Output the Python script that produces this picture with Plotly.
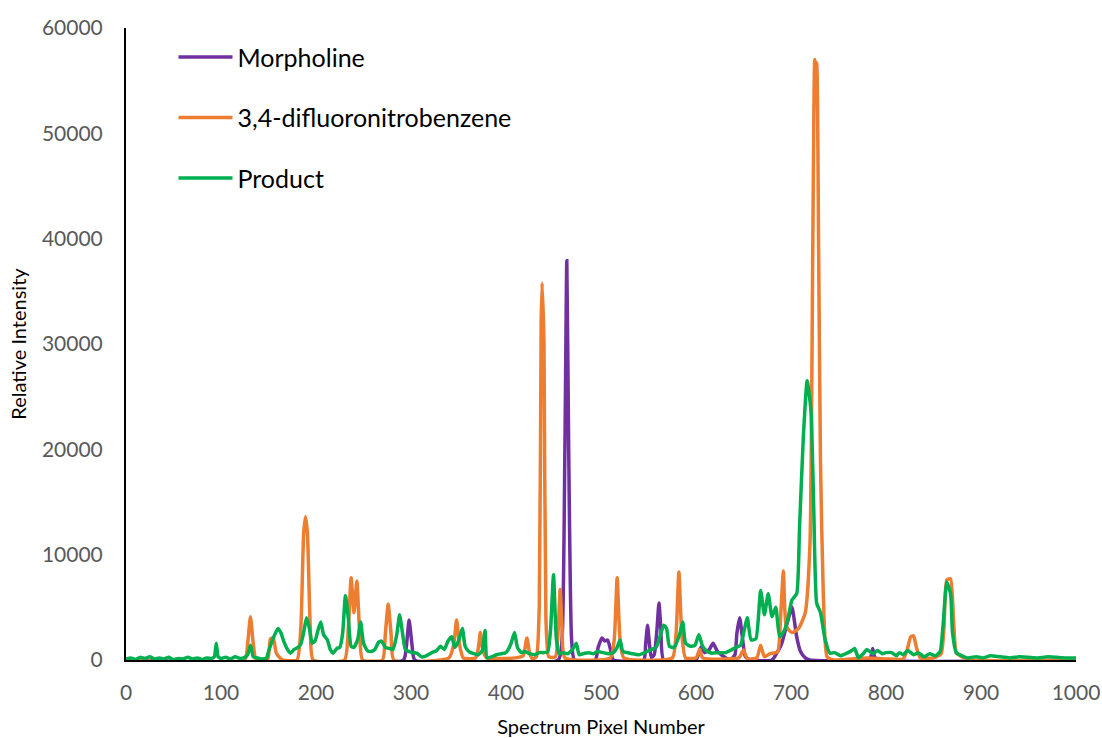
import plotly.graph_objects as go

# ---------------- data ----------------
morph_x = [0, 292, 295, 298, 301, 304, 455, 459, 462, 464, 466, 469, 472,
           494, 497, 501, 504, 507, 510, 513, 545, 547, 549, 551, 553, 556, 559, 561, 563, 566,
           600, 605, 609, 614, 618, 622, 628, 636, 641, 643, 646, 649, 652, 658,
           680, 685, 690, 696, 701, 706, 710, 715, 720, 780, 784, 786, 788, 792, 1000]
morph_y = [0, 0, 1200, 3800, 1500, 0, 0, 2000, 20000, 37900, 20000, 2000, 0,
           0, 1200, 2100, 1800, 1900, 1000, 0, 0, 1500, 3300, 1500, 200, 500, 3000, 5400, 3000, 0,
           0, 1200, 700, 1000, 1600, 900, 400, 0, 500, 2500, 4000, 2000, 300, 0,
           0, 650, 1500, 3500, 5000, 2200, 800, 200, 0, 0, 300, 1100, 300, 0, 0]

dfnb_x = [0, 125, 128, 131, 134, 137, 149, 152, 155, 158, 161, 165, 180, 184, 187, 189, 191, 194, 197,
          230, 234, 237, 240, 243, 246, 249, 270, 273, 276, 279, 282,
          340, 345, 348, 351, 355, 368, 371, 373, 376, 380,
          410, 418, 422, 425, 428, 432, 435, 437, 438, 440, 442, 445, 452, 455, 457, 459, 462,
          510, 514, 517, 520, 524, 575, 579, 582, 585, 589, 600, 604, 607,
          645, 650, 654, 664, 668, 672, 678, 686, 689, 692, 695, 701, 708, 715, 720, 723,
          725, 726, 727, 729, 731, 734, 738, 745, 780, 800, 818, 822, 826, 829, 832, 836,
          850, 858, 861, 864, 868, 871, 874, 880, 890, 1000]
dfnb_y = [0, 0, 1500, 4100, 1500, 0, 0, 2000, 2100, 700, 300, 0, 0, 3000, 12000, 13600, 12000, 3000, 0,
          0, 3000, 7800, 4500, 7500, 2500, 0, 0, 2500, 5300, 2500, 0,
          200, 1500, 3800, 1500, 200, 200, 1200, 2600, 800, 200,
          200, 400, 2100, 600, 100, 300, 5000, 32000, 35800, 30000, 4000, 300, 300, 3000, 6700, 3000, 200,
          200, 2000, 7800, 2000, 200, 200, 2500, 8350, 2500, 200, 200, 1000, 200,
          200, 950, 100, 200, 1400, 300, 600, 800, 4000, 8450, 3200, 2600, 3000, 4500, 11100, 40000,
          57000, 56300, 56700, 40000, 19000, 6300, 300, 0, 200, 100, 100, 900, 2200, 2300, 1200, 200,
          200, 600, 3000, 7600, 7700, 4000, 700, 300, 0, 0]

prod_x = [0, 5, 10, 15, 20, 25, 30, 35, 40, 45, 50, 55, 60, 65, 70, 75, 80, 85, 90, 93, 95, 97,
          100, 105, 110, 115, 120, 125, 128, 131, 134, 138, 143, 148,
          150, 153, 157, 160, 163, 166, 170, 173, 177, 181, 184, 187, 190, 193, 196, 199, 202, 205,
          208, 212, 215, 218, 222, 225, 228, 231, 234, 237, 240, 244, 247, 250, 254, 258, 262, 266,
          269, 273, 277, 281, 285, 288, 291, 294, 298, 302, 306, 311, 316, 322, 327, 331, 335, 339,
          343, 346, 350, 354, 357, 361, 366, 371, 375, 378, 380, 385, 390, 395, 400, 405, 409, 412,
          416, 420, 425, 430, 435, 440, 444, 447, 450, 453, 456, 460, 465, 470, 474, 477, 481, 487,
          492, 496, 502, 508, 513, 517, 520, 523, 528, 533, 540, 546, 553, 558, 562, 566, 569, 572,
          577, 583, 586, 589, 594, 599, 603, 607, 612, 617, 623, 631, 637, 642, 647, 650, 654, 658,
          663, 668, 672, 676, 680, 684, 688, 693, 697, 701, 706, 709, 713, 717, 721, 724, 727, 731,
          736, 741, 746, 752, 760, 764, 767, 771, 776, 780, 786, 791, 796, 800, 806, 811, 814, 818,
          823, 829, 834, 840, 846, 852, 857, 860, 864, 868, 870, 874, 880, 886, 895, 902, 910, 920,
          930, 940, 950, 960, 970, 980, 990, 1000]
prod_y = [100, 200, 50, 250, 150, 300, 100, 200, 100, 250, 50, 150, 100, 250, 100, 200, 50, 200, 150, 300, 1600, 300,
          150, 250, 100, 300, 150, 250, 500, 1400, 300, 200, 100, 200,
          800, 1600, 2500, 3000, 2600, 1800, 1000, 650, 1000, 1200, 1500, 2600, 4000, 3000, 1600, 1800, 2800, 3600,
          2400, 1900, 1000, 650, 1100, 1200, 2500, 6100, 4000, 1300, 1200, 2000, 3600, 1600, 900, 800, 1000, 1700,
          1800, 1200, 1100, 1000, 2400, 4300, 2600, 1000, 800, 700, 650, 300, 400, 700, 900, 1300, 1000, 1800,
          2200, 1200, 1800, 3000, 1300, 800, 600, 500, 900, 2800, 200, 300, 500, 600, 700, 1500, 2600, 1200,
          700, 800, 600, 500, 700, 700, 800, 3000, 8100, 2000, 600, 700, 600, 1000, 1600, 500, 600, 700,
          600, 800, 700, 600, 700, 1200, 1900, 800, 700, 600, 500, 700, 1000, 1200, 2200, 3300, 3000, 1300,
          1200, 2500, 3600, 1600, 1300, 1400, 2400, 1300, 800, 650, 700, 700, 950, 1200, 1400, 2500, 4000, 1900,
          2000, 6600, 4300, 6300, 4100, 5000, 2200, 2800, 4000, 5700, 6300, 12600, 21200, 26500, 23700, 14200, 5400, 4500,
          1900, 650, 700, 400, 700, 900, 1100, 200, 600, 1000, 600, 900, 600, 700, 700, 400, 700, 500,
          900, 500, 700, 300, 600, 400, 800, 3200, 7400, 6300, 2600, 700, 400, 200, 300, 200, 400, 300,
          200, 300, 250, 200, 300, 250, 200, 200]

series = [
    ("Morpholine", morph_x, morph_y, "#7030A0"),
    ("3,4-difluoronitrobenzene", dfnb_x, dfnb_y, "#ED7D31"),
    ("Product", prod_x, prod_y, "#00B050"),
]

x_ticks = [0, 100, 200, 300, 400, 500, 600, 700, 800, 900, 1000]
y_ticks = [0, 10000, 20000, 30000, 40000, 50000, 60000]

FONT = "Lato"

fig = go.Figure()
for i, (name, xs, ys, col) in enumerate(series):
    fig.add_trace(go.Scatter(
        x=xs, y=ys, mode="lines", name=name,
        line=dict(color=col, width=3.5, shape="spline", smoothing=0.5),
        legendgroup=f"g{i}",
    ))

fig.update_layout(
    width=1102, height=738,
    margin=dict(l=126, r=26, t=28, b=78, autoexpand=False),
    paper_bgcolor="white", plot_bgcolor="white",
    font=dict(family=FONT, color="#000000"),
    showlegend=True,
    legend=dict(
        x=0.050, y=0.99, xanchor="left", yanchor="top",
        font=dict(family=FONT, size=25, color="#000000"),
        bgcolor="rgba(0,0,0,0)", traceorder="grouped", tracegroupgap=25,
        itemwidth=54,
    ),
)
fig.update_xaxes(
    range=[0, 1000], tickvals=x_ticks, ticktext=[str(v) for v in x_ticks],
    showgrid=False, zeroline=False, automargin=False,
    showline=True, linecolor="#000000", linewidth=2, layer="below traces",
    ticks="outside", ticklen=13, tickcolor="rgba(0,0,0,0)",
    tickfont=dict(family=FONT, size=21, color="#595959"),
    title=dict(text="Spectrum Pixel Number", font=dict(family=FONT, size=20, color="#000000"), standoff=17),
)
fig.update_yaxes(
    range=[0, 60000], tickvals=y_ticks, ticktext=[str(v) for v in y_ticks],
    showgrid=False, zeroline=False, automargin=False,
    showline=True, linecolor="#000000", linewidth=2, layer="below traces",
    ticks="outside", ticklen=17, tickcolor="rgba(0,0,0,0)",
    tickfont=dict(family=FONT, size=21, color="#595959"),
    title=dict(text="Relative Intensity", font=dict(family=FONT, size=20, color="#000000"), standoff=10),
)

# remove the default 8 px page margin so the figure sits at the window origin
fig.write_html("out.html", config={"displayModeBar": False},
               post_script="document.body.style.margin='0';")
